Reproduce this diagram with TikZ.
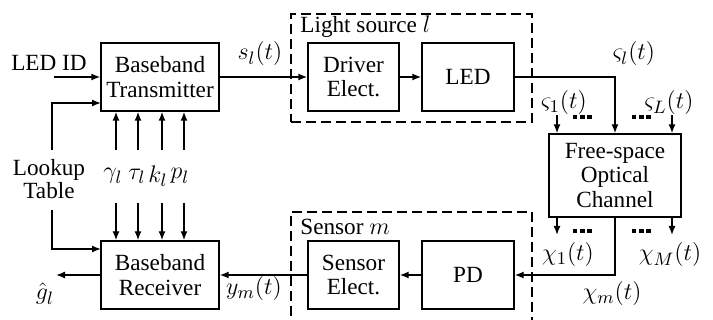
\documentclass[tikz,border=0pt]{standalone}
\usepackage{fontspec}
\setmainfont{Liberation Serif}
\usetikzlibrary{arrows.meta}
\begin{document}
\begin{tikzpicture}[x=0.5pt,y=-0.5pt, font=\fontsize{11.6}{12.3}\selectfont,
  blk/.style={draw, line width=0.7pt, align=center, inner sep=0pt},
  arr/.style={-{Latex[length=4.5pt,width=3.5pt]}, line width=0.7pt},
  grp/.style={draw, line width=1.2pt, dash pattern=on 5pt off 2.5pt, inner sep=0pt},
  dotsq/.style={line width=1.6pt, dash pattern=on 2.2pt off 1.4pt},
  lbl/.style={inner sep=0pt, align=center},
  mlbl/.style={inner sep=0pt, font=\fontsize{13.2}{14}\selectfont}]
\useasboundingbox (0,0) rectangle (713,320);

% group boxes
\node[grp, minimum width=120.5pt, minimum height=54pt] (lsrc) at (411.5,68) {};
\node[grp, minimum width=120.5pt, minimum height=57pt] (sens) at (411.5,269) {};
\node[lbl, anchor=west] (lsrclbl) at (300,27) {Light source \fontsize{13.2}{14}\selectfont$l$};
\node[lbl, anchor=west] (senslbl) at (300,227) {Sensor \fontsize{13.2}{14}\selectfont$m$};

% blocks
\node[blk, minimum width=59pt, minimum height=34pt] (tx) at (160,77) {Baseband\\Transmitter};
\node[blk, minimum width=59pt, minimum height=34pt] (rx) at (160,275) {Baseband\\Receiver};
\node[blk, minimum width=45.5pt, minimum height=34pt] (drv) at (353.5,77) {Driver\\Elect.};
\node[blk, minimum width=46pt, minimum height=34pt] (led) at (468,77) {LED};
\node[blk, minimum width=45.5pt, minimum height=34pt] (se) at (353.5,275) {Sensor\\Elect.};
\node[blk, minimum width=46pt, minimum height=34pt] (pd) at (468,275) {PD};
\node[blk, minimum width=66pt, minimum height=41.5pt] (ch) at (615,175.5) {Free-space\\Optical\\Channel};

% side labels
\node[lbl] (ledid) at (49,63) {LED ID};
\node[lbl, font=\fontsize{11.6}{9.6}\selectfont] (lut) at (49,179) {Lookup\\Table};
\node[mlbl] (gam) at (113,176) {$\gamma_l$};
\node[mlbl] (tau) at (137,176) {$\tau_l$};
\node[mlbl] (kk) at (158,176) {$k_l$};
\node[mlbl] (pp) at (180,176) {$p_l$};
\node[mlbl] (sl) at (260,54) {$s_l(t)$};
\node[mlbl] (vsl) at (634,54) {$\varsigma_l(t)$};
\node[mlbl] (vs1) at (564,103) {$\varsigma_1(t)$};
\node[mlbl] (vsL) at (669,103) {$\varsigma_L(t)$};
\node[mlbl] (chi1) at (568,255) {$\chi_1(t)$};
\node[mlbl] (chiM) at (670,255) {$\chi_M(t)$};
\node[mlbl] (chim) at (612,294) {$\chi_m(t)$};
\node[mlbl] (ym) at (254,289) {$y_m(t)$};
\node[mlbl] (gh) at (45,294) {$\hat{g}_l$};

% coordinates
\coordinate (ledidS) at (54,77);
\coordinate (lutT) at (52,150);
\coordinate (lutB) at (52,210);
\coordinate (txin2) at (101,103);
\coordinate (rxin2) at (101,249);
\coordinate (ghE) at (56,275);
\foreach \i/\x in {1/116,2/138,3/162,4/184}{
  \coordinate (pu\i) at (\x,150);
  \coordinate (pd\i) at (\x,203);
}
\coordinate (v1s) at (557,115);
\coordinate (vLs) at (672,115);
\coordinate (c1e) at (557,235);
\coordinate (cMe) at (672,235);

% connectors
\draw[arr] (ledidS) -- (tx.west |- ledidS);
\draw[arr] (lutT) |- (txin2);
\draw[arr] (lutB) |- (rxin2);
\foreach \i in {1,2,3,4}{
  \draw[arr] (pu\i) -- (pu\i |- tx.south);
  \draw[arr] (pd\i) -- (pd\i |- rx.north);
}
\draw[arr] (tx.east) -- (drv.west);
\draw[arr] (drv.east) -- (led.west);
\draw[arr] (led.east) -| (ch.north);
\draw[arr] (v1s) -- (v1s |- ch.north);
\draw[arr] (vLs) -- (vLs |- ch.north);
\draw[arr] (c1e |- ch.south) -- (c1e);
\draw[arr] (cMe |- ch.south) -- (cMe);
\draw[arr] (ch.south) |- (pd.east);
\draw[arr] (pd.west) -- (se.east);
\draw[arr] (se.west) -- (rx.east);
\draw[arr] (rx.west) -- (ghE);

% dots
\draw[dotsq] (573,117) -- (594,117);
\draw[dotsq] (632,117) -- (653,117);
\draw[dotsq] (573,231) -- (594,231);
\draw[dotsq] (632,231) -- (653,231);
\end{tikzpicture}
\end{document}
